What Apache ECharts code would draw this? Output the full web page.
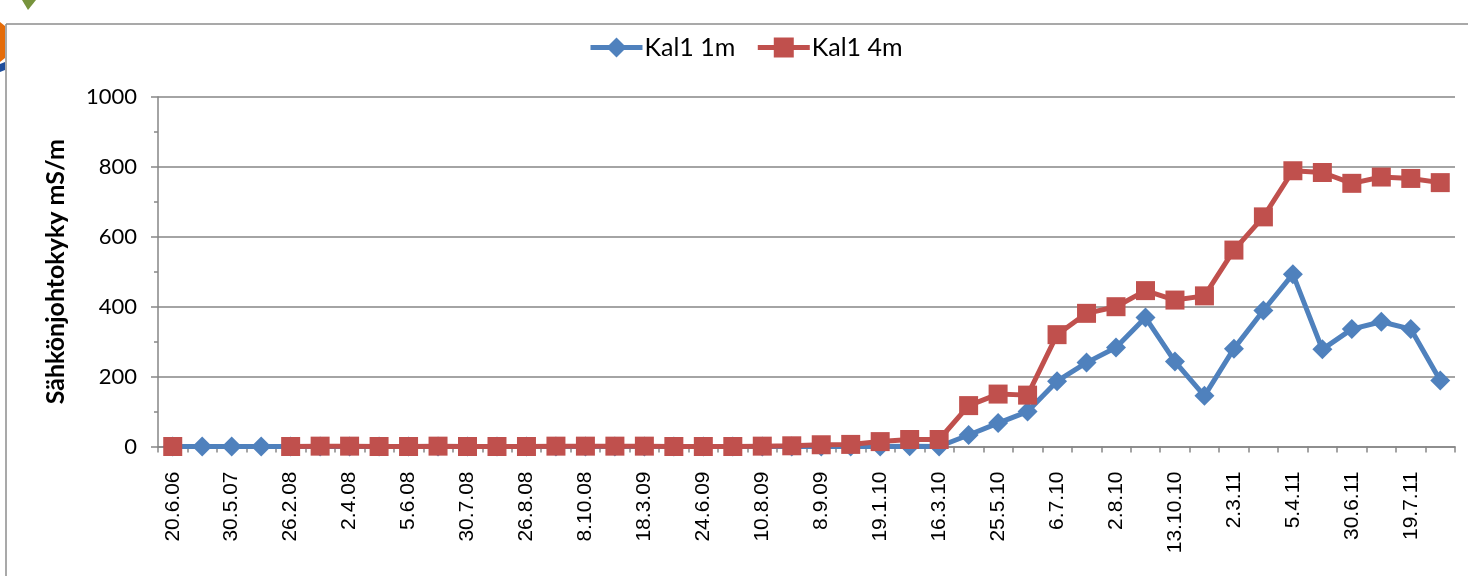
<!DOCTYPE html>
<html>
<head>
<meta charset="utf-8">
<script src="https://cdn.jsdelivr.net/npm/echarts@6/dist/echarts.min.js"></script>
<style>
html,body{margin:0;padding:0;background:#fff;}
#c{width:1468px;height:576px;}
</style>
</head>
<body>
<div id="c"></div>
<script>
const categories = ["20.6.06","14.11.06","30.5.07","15.11.07","26.2.08","12.3.08","2.4.08","6.5.08","5.6.08","2.7.08",
"30.7.08","13.8.08","26.8.08","17.9.08","8.10.08","11.11.08","18.3.09","6.5.09","24.6.09","15.7.09",
"10.8.09","25.8.09","8.9.09","10.11.09","19.1.10","17.2.10","16.3.10","20.4.10","25.5.10","15.6.10",
"6.7.10","20.7.10","2.8.10","8.9.10","13.10.10","10.11.10","2.3.11","16.3.11","5.4.11","19.5.11",
"30.6.11","11.7.11","19.7.11","2.8.11"];
const kal1_1m = [0,0,0,0, 0,0,0,0,0,0,0,0,0,0,0,0,0,0,0,0,0,0,0,0, 0,1,0,33,67,100,187,240,283,369,243,145,280,389,493,278,336,357,336,189];
const kal1_4m = [0,null,null,null, 0,1,1,0,0,1,0,0,0,1,1,1,1,0,0,0,1,2,5,6, 14,20,20,117,150,147,320,381,400,446,419,431,562,657,789,784,753,771,767,755];
const yTicks = {min:0, max:1000, interval:200};

const axisGray = '#868686';
const chart = echarts.init(document.getElementById('c'));
chart.setOption({
  animation:false,
  backgroundColor:'#fff',
  graphic:[
    {type:'line', shape:{x1:6,y1:24,x2:1468,y2:24}, style:{stroke:'#8c8c8c',lineWidth:1.5}},
    {type:'line', shape:{x1:6,y1:24,x2:6,y2:576}, style:{stroke:'#8c8c8c',lineWidth:1.5}},
    {type:'polygon', shape:{points:[[0,22],[5,26],[5,58],[0,62]]}, style:{fill:'#e46c0a'}},
    {type:'polygon', shape:{points:[[22,0],[36,0],[28,10]]}, style:{fill:'#77933c'}},
    {type:'polygon', shape:{points:[[0,64],[5,62],[5,70],[0,72]]}, style:{fill:'#1f4e9c'}}
  ],
  legend:{
    left:583, top:30,
    itemWidth:52, itemHeight:25, itemGap:20,
    lineStyle:{width:5},
    textStyle:{fontFamily:'Lato', fontSize:25, color:'#000', padding:[0,0,0,-3]},
    data:['Kal1 1m','Kal1 4m']
  },
  grid:{left:158, right:13, top:97, bottom:129.5, containLabel:false},
  xAxis:{
    type:'category',
    data:categories,
    boundaryGap:true,
    axisLine:{lineStyle:{color:axisGray,width:1.5}},
    axisTick:{show:true, interval:0, length:6, lineStyle:{color:axisGray,width:1.5}},
    axisLabel:{interval:1, rotate:90, margin:25, fontFamily:'Liberation Sans', fontSize:21, color:'#000'},
    splitLine:{show:false}
  },
  yAxis:{
    type:'value',
    min:yTicks.min, max:yTicks.max, interval:yTicks.interval,
    name:'Sähkönjohtokyky mS/m',
    nameLocation:'middle', nameGap:90,
    nameTextStyle:{fontFamily:'Lato', fontWeight:'bold', fontSize:25, color:'#000'},
    axisLine:{show:true, lineStyle:{color:axisGray,width:1.5}},
    axisTick:{show:true, length:7, lineStyle:{color:axisGray,width:1.5}},
    minorTick:{show:true, splitNumber:2, length:4, lineStyle:{color:axisGray,width:1.5}},
    axisLabel:{margin:21, fontFamily:'Lato', fontSize:22, color:'#000', formatter:function(v){return String(v);}},
    splitLine:{show:true, lineStyle:{color:axisGray,width:1.5}}
  },
  series:[
    {
      name:'Kal1 1m', type:'line', data:kal1_1m,
      symbol:'diamond', symbolSize:[20,20], showAllSymbol:true,
      lineStyle:{color:'#4f81bd', width:5},
      itemStyle:{color:'#4f81bd'},
      z:2
    },
    {
      name:'Kal1 4m', type:'line', data:kal1_4m, connectNulls:false,
      symbol:'rect', symbolSize:19, showAllSymbol:true,
      lineStyle:{color:'#c0504d', width:5},
      itemStyle:{color:'#c0504d'},
      z:3
    }
  ]
});
</script>
</body>
</html>
